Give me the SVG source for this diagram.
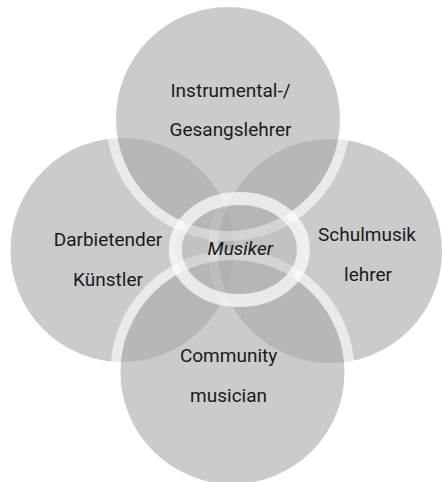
<svg xmlns="http://www.w3.org/2000/svg" width="442" height="482" viewBox="0 0 442 482">
  <style>
    .disc { fill: #aaaaaa; stroke: #ffffff; stroke-width: 10; }
    .center { fill: #b4b4b4; fill-opacity: 0.4; stroke: #ffffff; stroke-opacity: 0.7; stroke-width: 13; }
    .fade { opacity: 0.6; }
    .lbl { font-family: Roboto, "Liberation Sans", sans-serif; font-size: 19px; fill: #1a1a1a; text-anchor: middle; }
    .ctr { font-style: italic; }
  </style>
  <rect width="442" height="482" fill="#ffffff"/>
  <g id="connectors"/>
  <g id="node-darbietender">
    <g class="fade"><circle class="disc" cx="122.5" cy="250" r="117"/></g>
    <text class="lbl" x="108" y="246">Darbietender</text>
    <text class="lbl" x="108" y="285.7">Künstler</text>
  </g>
  <g id="node-schulmusik">
    <g class="fade"><circle class="disc" cx="330" cy="251" r="117"/></g>
    <text class="lbl" x="367" y="240.7">Schulmusik</text>
    <text class="lbl" x="368" y="280.7">lehrer</text>
  </g>
  <g id="node-instrumental">
    <g class="fade"><circle class="disc" cx="228" cy="119" r="117"/></g>
    <text class="lbl" x="230.5" y="96.7">Instrumental-/</text>
    <text class="lbl" x="230.5" y="136">Gesangslehrer</text>
  </g>
  <g id="node-community">
    <g class="fade"><circle class="disc" cx="232.5" cy="372" r="117"/></g>
    <text class="lbl" x="228.6" y="361.7">Community</text>
    <text class="lbl" x="228.6" y="401.7">musician</text>
  </g>
  <g id="node-musiker">
    <ellipse class="center" cx="239.4" cy="249.6" rx="64" ry="51"/>
    <text class="lbl ctr" x="240.3" y="255">Musiker</text>
  </g>
</svg>
